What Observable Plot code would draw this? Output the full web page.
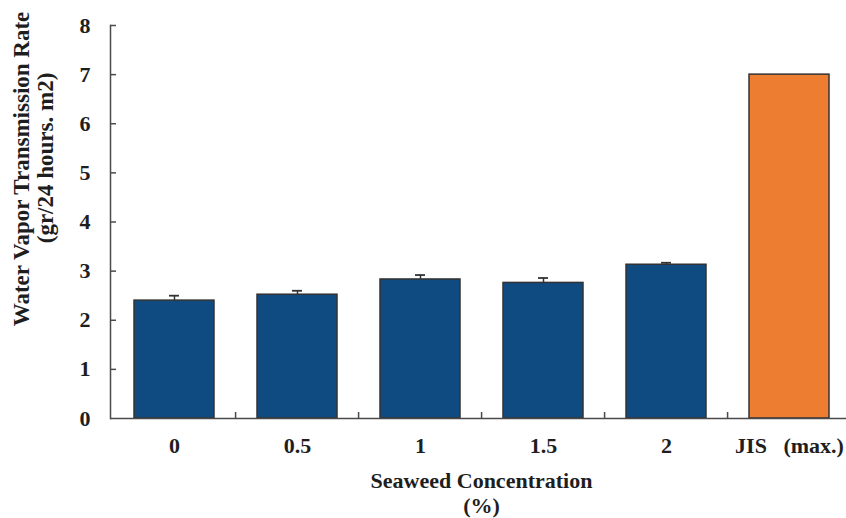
<!DOCTYPE html>
<html><head><meta charset="utf-8">
<script src="https://cdn.jsdelivr.net/npm/d3@7"></script>
<script src="https://cdn.jsdelivr.net/npm/@observablehq/plot@0.6"></script>
<style>html,body{margin:0;padding:0;background:#fff} svg{display:block}</style>
</head><body><div id="chart"></div>
<script>
const categories = ["0", "0.5", "1", "1.5", "2", "JIS (max.)"];
const tickLabels = ["0", "0.5", "1", "1.5", "2", "JIS\u00a0\u00a0\u00a0(max.)"];
const values = [2.40, 2.52, 2.83, 2.76, 3.13, 7.00];
const errors = [0.10, 0.08, 0.09, 0.10, 0.04, null];
const barColors = ["#0f4a80", "#0f4a80", "#0f4a80", "#0f4a80", "#0f4a80", "#ed7d31"];
const yTicks = [0, 1, 2, 3, 4, 5, 6, 7, 8];
const yTitle = ["Water Vapor Transmission Rate", "(gr/24 hours. m2)"];
const xTitle = ["Seaweed Concentration", "(%)"];

const data = categories.map((c, i) => ({cat: c, value: values[i], err: errors[i], color: barColors[i]}));
const errData = data.filter(d => d.err != null);

const xRange = [110, 853];
const step = (xRange[1] - xRange[0]) / categories.length;
const font = '"Liberation Serif", "Times New Roman", serif';
const axisColor = "#4a4a4a";

const chart = Plot.plot({
  width: 846,
  height: 518,
  marginLeft: 110,
  marginRight: 0,
  marginTop: 25,
  marginBottom: 100,
  style: {fontFamily: font, fontSize: "22px", fontWeight: "bold", color: "#1e1e1e", background: "#fff", overflow: "hidden"},
  x: {type: "band", domain: categories, range: xRange, paddingInner: 0.35, paddingOuter: 0.175},
  y: {domain: [0, 8], range: [418, 25]},
  marks: [
    Plot.barY(data, {x: "cat", y: "value", fill: "color", stroke: "#333", strokeWidth: 1.5}),
    Plot.ruleX(errData, {x: "cat", y1: "value", y2: d => d.value + d.err, stroke: "#333", strokeWidth: 1.5}),
    Plot.tickY(errData, {x: "cat", y: d => d.value + d.err, insetLeft: 35, insetRight: 35, stroke: "#333", strokeWidth: 1.8}),
    Plot.ruleY([0], {stroke: axisColor, strokeWidth: 1.5}),
    Plot.frame({anchor: "left", stroke: axisColor, strokeWidth: 1.5}),
    Plot.axisY({ticks: yTicks, tickSize: 0, tickPadding: 20, tickFormat: d => String(d), label: null}),
    Plot.axisY({ticks: yTicks.slice(1), tickSize: 6, dx: 6, text: null, label: null, stroke: axisColor, strokeWidth: 1.5}),
    Plot.axisX({tickSize: 0, tickPadding: 19, tickFormat: d => tickLabels[categories.indexOf(d)], label: null}),
    Plot.axisX({ticks: categories.slice(1), tickSize: 6, dx: -step / 2, dy: -6, text: null, label: null, stroke: axisColor, strokeWidth: 1.5}),
    Plot.text([yTitle[0]], {frameAnchor: "left", textAnchor: "middle", lineAnchor: "middle", rotate: -90, dx: -89, dy: -53, fontSize: 23}),
    Plot.text([yTitle[1]], {frameAnchor: "left", textAnchor: "middle", lineAnchor: "middle", rotate: -90, dx: -65, dy: -64, fontSize: 23}),
    Plot.text([xTitle[0]], {frameAnchor: "bottom", textAnchor: "middle", lineAnchor: "middle", dx: 3, dy: 62, fontSize: 22}),
    Plot.text([xTitle[1]], {frameAnchor: "bottom", textAnchor: "middle", lineAnchor: "middle", dx: 3, dy: 87, fontSize: 22})
  ]
});
document.getElementById("chart").appendChild(chart);
</script>
</body></html>
